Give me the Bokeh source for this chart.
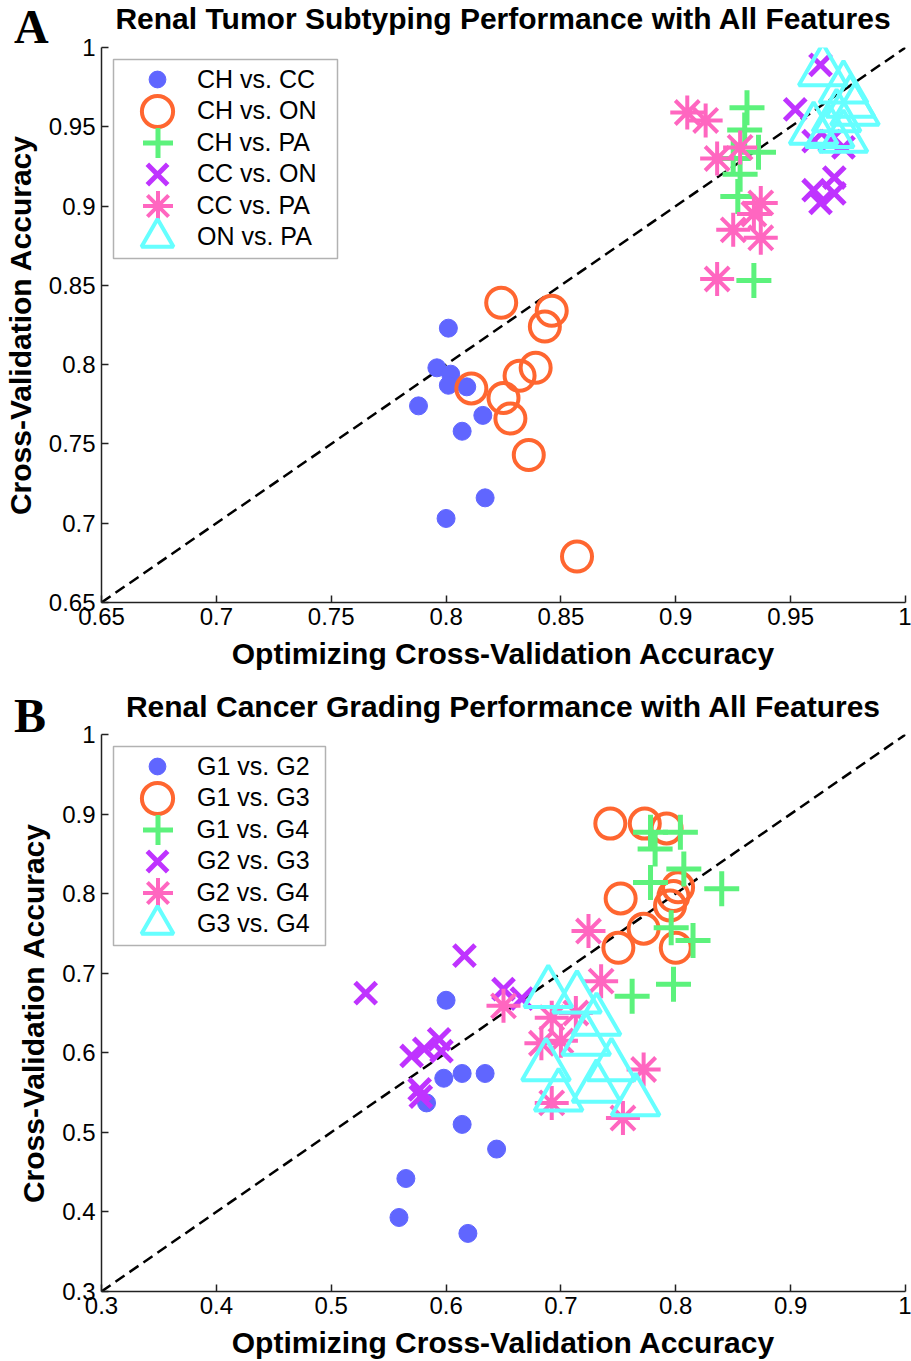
from bokeh.plotting import figure
from bokeh.layouts import column
from bokeh.models import (Range1d, Legend, LegendItem, Div, CustomJSTickFormatter,
                          FixedTicker, BoxAnnotation)
from bokeh.embed import file_html
from bokeh.resources import INLINE

# ---------------- Panel A data ----------------
a_title = "Renal Tumor Subtyping Performance with All Features"
a_names = ["CH vs. CC", "CH vs. ON", "CH vs. PA", "CC vs. ON", "CC vs. PA", "ON vs. PA"]
a_ticks = [0.65, 0.7, 0.75, 0.8, 0.85, 0.9, 0.95, 1.0]
a_diag = [0.65, 1.0]

a_ch_cc_x = [0.801, 0.796, 0.802, 0.801, 0.809, 0.788, 0.816, 0.807, 0.817, 0.800]
a_ch_cc_y = [0.823, 0.798, 0.794, 0.787, 0.786, 0.774, 0.768, 0.758, 0.716, 0.703]

a_ch_on_x = [0.824, 0.846, 0.843, 0.839, 0.832, 0.811, 0.825, 0.828, 0.836, 0.857]
a_ch_on_y = [0.839, 0.834, 0.824, 0.798, 0.793, 0.785, 0.779, 0.766, 0.743, 0.679]

a_ch_pa_x = [0.931, 0.930, 0.936, 0.928, 0.927, 0.934, 0.925]
a_ch_pa_y = [0.962, 0.948, 0.934, 0.920, 0.906, 0.853, 0.930]

a_cc_on_x = [0.963, 0.952, 0.960, 0.969, 0.963, 0.969, 0.967, 0.960, 0.973]
a_cc_on_y = [0.989, 0.961, 0.910, 0.918, 0.902, 0.908, 0.941, 0.941, 0.937]

a_cc_pa_x = [0.905, 0.913, 0.918, 0.928, 0.937, 0.925, 0.937, 0.918, 0.934]
a_cc_pa_y = [0.959, 0.954, 0.930, 0.937, 0.902, 0.885, 0.880, 0.854, 0.895]

a_on_pa_x = [0.964, 0.973, 0.976, 0.960, 0.967, 0.973, 0.970, 0.978]
a_on_pa_y = [0.985, 0.974, 0.965, 0.948, 0.946, 0.943, 0.956, 0.960]

# ---------------- Panel B data ----------------
b_title = "Renal Cancer Grading Performance with All Features"
b_names = ["G1 vs. G2", "G1 vs. G3", "G1 vs. G4", "G2 vs. G3", "G2 vs. G4", "G3 vs. G4"]
b_ticks = [0.3, 0.4, 0.5, 0.6, 0.7, 0.8, 0.9, 1.0]
b_diag = [0.3, 1.0]

b_g1_g2_x = [0.600, 0.598, 0.614, 0.634, 0.583, 0.614, 0.644, 0.565, 0.559, 0.619]
b_g1_g2_y = [0.666, 0.568, 0.574, 0.574, 0.537, 0.510, 0.479, 0.442, 0.393, 0.373]

b_g1_g3_x = [0.743, 0.773, 0.792, 0.752, 0.802, 0.798, 0.795, 0.772, 0.750, 0.800]
b_g1_g3_y = [0.888, 0.888, 0.882, 0.794, 0.808, 0.797, 0.785, 0.756, 0.732, 0.732]

b_g1_g4_x = [0.778, 0.782, 0.804, 0.807, 0.778, 0.840, 0.796, 0.815, 0.798, 0.762]
b_g1_g4_y = [0.877, 0.856, 0.877, 0.831, 0.814, 0.806, 0.757, 0.741, 0.686, 0.671]

b_g2_g3_x = [0.530, 0.616, 0.650, 0.666, 0.594, 0.570, 0.581, 0.596, 0.577, 0.578]
b_g2_g3_y = [0.675, 0.722, 0.680, 0.668, 0.617, 0.596, 0.605, 0.602, 0.554, 0.545]

b_g2_g4_x = [0.650, 0.735, 0.724, 0.692, 0.713, 0.683, 0.700, 0.692, 0.772, 0.754]
b_g2_g4_y = [0.659, 0.690, 0.753, 0.644, 0.650, 0.612, 0.615, 0.537, 0.579, 0.518]

b_g3_g4_x = [0.689, 0.714, 0.731, 0.722, 0.687, 0.698, 0.744, 0.731, 0.765]
b_g3_g4_y = [0.675, 0.668, 0.640, 0.615, 0.583, 0.545, 0.583, 0.556, 0.539]

# ---------------- styles ----------------
BLUE = "#6066FF"
ORANGE = "#FF6630"
GREEN = "#5CF27C"
PURPLE = "#BF33FF"
PINK = "#FF66C0"
CYAN = "#66FFFF"

SANS = "Liberation Sans"

tick_fmt = CustomJSTickFormatter(code="return String(Number(tick.toFixed(2)));")

GLYPHS = [42, 78, 75, 72, 75, 80]   # legend glyph boxes -> marker size 0.4*box
ROW0 = 32           # first legend row centre, px below frame top
ROW = 31.5          # legend row step
MARK_X = 56         # legend marker centre, px right of frame left
TEXT_GAP = 40       # label start, px right of legend marker centre
TOP_PAD = 13        # figure border above the frame (room for the top tick label)


def header(letter, title, height, letter_top, title_top):
    html = (
        f'<div style="position:relative;width:911px;height:{height}px;overflow:visible;">'
        f'<span style="position:absolute;left:14px;top:{letter_top}px;'
        f"font-family:'Liberation Serif';font-weight:bold;font-size:48px;line-height:48px;"
        f'color:black;">{letter}</span>'
        f'<span style="position:absolute;left:101px;width:804px;top:{title_top}px;'
        f"text-align:center;white-space:nowrap;font-family:'Liberation Sans';font-weight:bold;"
        f'font-size:30px;line-height:30px;color:black;">{title}</span>'
        f'</div>'
    )
    return Div(text=html, width=911, height=height, margin=0,
               styles={"overflow": "visible", "position": "relative", "z-index": "5"})


def make_panel(names, ticks, diag, series, height, bottom, box_right):
    p = figure(width=911, height=height, output_backend="svg", toolbar_location=None,
               x_range=Range1d(diag[0], diag[1]), y_range=Range1d(diag[0], diag[1]),
               min_border_left=101, min_border_right=6, min_border_top=TOP_PAD,
               min_border_bottom=bottom, margin=0)
    frame_h = height - TOP_PAD - bottom
    p.outline_line_color = None
    p.xgrid.visible = False
    p.ygrid.visible = False
    p.background_fill_color = "white"
    p.border_fill_color = "white"
    p.border_fill_alpha = 0.0

    for ax in (p.xaxis[0], p.yaxis[0]):
        ax.ticker = FixedTicker(ticks=ticks)
        ax.formatter = tick_fmt
        ax.minor_tick_line_color = None
        ax.major_tick_in = 7
        ax.major_tick_out = 0
        ax.major_tick_line_width = 1.5
        ax.major_tick_line_color = "#222222"
        ax.axis_line_width = 1.5
        ax.axis_line_color = "#222222"
        ax.major_label_text_font = SANS
        ax.major_label_text_font_size = "24px"
        ax.major_label_text_color = "black"
        ax.major_label_standoff = 6
        ax.axis_label_text_font = SANS
        ax.axis_label_text_font_style = "bold"
        ax.axis_label_text_font_size = "30px"
        ax.axis_label_text_color = "black"
        ax.axis_label_standoff = 9
    p.xaxis.axis_label = "Optimizing Cross-Validation Accuracy"
    p.yaxis.axis_label = "Cross-Validation Accuracy"
    p.xaxis.major_label_standoff = 5

    p.line(diag, diag, line_color="black", line_width=2.5, line_dash="11 6")

    (x1, y1), (x2, y2), (x3, y3), (x4, y4), (x5, y5), (x6, y6) = series
    r1 = p.scatter(x1, y1, marker="circle", size=18, fill_color=BLUE, line_color=BLUE, line_width=1)
    r2 = p.scatter(x2, y2, marker="circle", size=30, fill_color=None, line_color=ORANGE, line_width=4)
    r3 = p.scatter(x3, y3, marker="cross", size=35, line_color=GREEN, line_width=5)
    r4 = p.scatter(x4, y4, marker="x", size=30, line_color=PURPLE, line_width=5)
    r5 = p.scatter(x5, y5, marker="asterisk", size=34, line_color=PINK, line_width=4)
    r6 = p.scatter(x6, y6, marker="triangle", size=48, fill_color=None, line_color=CYAN, line_width=4)

    # legend frame
    p.add_layout(BoxAnnotation(left=12, right=box_right, top=frame_h - 12, bottom=frame_h - 211,
                               left_units="screen", right_units="screen",
                               top_units="screen", bottom_units="screen",
                               fill_color="white", fill_alpha=1.0,
                               line_color="black", line_width=1.5, level="annotation"))
    # one legend per entry so that the markers can be drawn large
    for i, (n, r, g) in enumerate(zip(names, [r1, r2, r3, r4, r5, r6], GLYPHS)):
        cy = frame_h - (ROW0 + ROW * i)
        leg = Legend(items=[LegendItem(label=n, renderers=[r])],
                     location=(MARK_X - g / 2, cy - g / 2), margin=0, padding=0,
                     glyph_width=g, glyph_height=g, label_height=g,
                     label_standoff=max(0, int(TEXT_GAP - g / 2)), spacing=0,
                     label_text_font=SANS, label_text_font_size="25px", label_text_color="black",
                     border_line_color=None, background_fill_alpha=0.0)
        p.add_layout(leg, "center")
    return p


hdr_a = header("A", a_title, 34, 3, 4)
pa = make_panel(a_names, a_ticks, a_diag,
                [(a_ch_cc_x, a_ch_cc_y), (a_ch_on_x, a_ch_on_y), (a_ch_pa_x, a_ch_pa_y),
                 (a_cc_on_x, a_cc_on_y), (a_cc_pa_x, a_cc_pa_y), (a_on_pa_x, a_on_pa_y)],
                646, 78, 236)
hdr_b = header("B", b_title, 41, 12, 12)
pb = make_panel(b_names, b_ticks, b_diag,
                [(b_g1_g2_x, b_g1_g2_y), (b_g1_g3_x, b_g1_g3_y), (b_g1_g4_x, b_g1_g4_y),
                 (b_g2_g3_x, b_g2_g3_y), (b_g2_g4_x, b_g2_g4_y), (b_g3_g4_x, b_g3_g4_y)],
                640, 70, 224)

layout = column(hdr_a, pa, hdr_b, pb, spacing=0)
open("out.html", "w").write(file_html(layout, INLINE))
